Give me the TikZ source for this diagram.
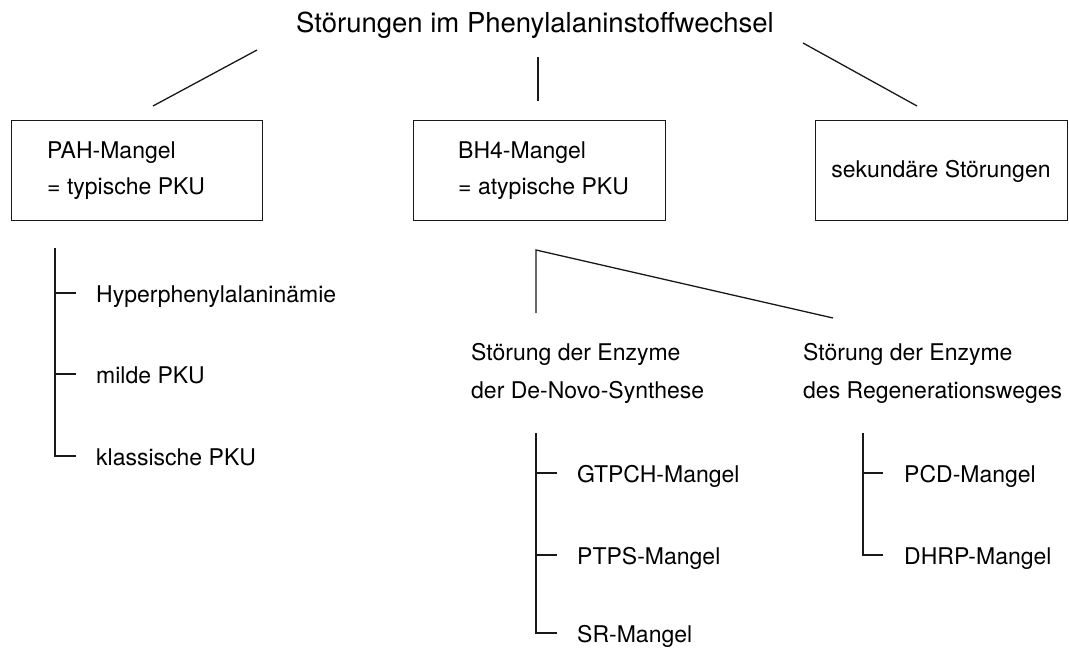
\documentclass[tikz,border=0pt]{standalone}
\usepackage{fontspec}
\setmainfont{TeX Gyre Heros}
\begin{document}
\begin{tikzpicture}[x=1pt,y=-1pt,
  ln/.style={line width=1.3pt, black!90},
  txt/.style={font=\fontsize{23}{27}\selectfont, inner sep=0pt, anchor=base west},
  ttl/.style={font=\fontsize{27.5}{32}\selectfont, inner sep=0pt, anchor=base},
  box/.style={draw, line width=1.3pt, black!90, anchor=north west, inner sep=0pt, minimum height=100pt}]
\useasboundingbox (0,0) rectangle (1069,651);

% title
\node[ttl] (title) at (535,32) {Störungen im Phenylalaninstoffwechsel};

% boxes
\node[box, minimum width=251pt] (pah) at (11,120) {};
\node[box, minimum width=252pt] (bh4) at (413,120) {};
\node[box, minimum width=252pt] (sek) at (815,120) {};

\node[txt] (pah1) at (47,158) {PAH-Mangel};
\node[txt] (pah2) at (47,194) {= typische PKU};
\node[txt] (bh41) at (458,158) {BH4-Mangel};
\node[txt] (bh42) at (458,194) {= atypische PKU};
\node[txt, anchor=base] (sek1) at (941,177) {sekundäre Störungen};

% connectors from title
\coordinate (lA) at (257,50);  \coordinate (lB) at (153,106);
\coordinate (mA) at (538,57);  \coordinate (mB) at (538,101);
\coordinate (rA) at (803,43);  \coordinate (rB) at (917,106);
\draw[ln] (lA) -- (lB);
\draw[ln] (mA) -- (mB);
\draw[ln] (rA) -- (rB);

% PAH subtree
\coordinate (p0) at (55,248);
\coordinate (p1) at (55,293); \coordinate (p1e) at (76,293);
\coordinate (p2) at (55,374); \coordinate (p2e) at (76,374);
\coordinate (p3) at (55,456); \coordinate (p3e) at (76,456);
\draw[ln] (p0) -- (p3) -- (p3e);
\draw[ln] (p1) -- (p1e);
\draw[ln] (p2) -- (p2e);
\node[txt] (hyp) at (96,302) {Hyperphenylalaninämie};
\node[txt] (mild) at (96,383) {milde PKU};
\node[txt] (klas) at (96,465) {klassische PKU};

% BH4 branching
\coordinate (bV) at (536,250);
\coordinate (bL) at (536,313);
\coordinate (bR) at (833,318);
\draw[ln] (bL) -- (bV) -- (bR);

\node[txt] (dn1) at (471,360) {Störung der Enzyme};
\node[txt] (dn2) at (471,398) {der De-Novo-Synthese};
\node[txt] (rg1) at (803,360) {Störung der Enzyme};
\node[txt] (rg2) at (803,398) {des Regenerationsweges};

% De-novo subtree
\coordinate (d0) at (536,433);
\coordinate (d1) at (536,473); \coordinate (d1e) at (557,473);
\coordinate (d2) at (536,555); \coordinate (d2e) at (557,555);
\coordinate (d3) at (536,633); \coordinate (d3e) at (557,633);
\draw[ln] (d0) -- (d3) -- (d3e);
\draw[ln] (d1) -- (d1e);
\draw[ln] (d2) -- (d2e);
\node[txt] (gtp) at (577,482) {GTPCH-Mangel};
\node[txt] (ptp) at (577,564) {PTPS-Mangel};
\node[txt] (sr) at (577,642) {SR-Mangel};

% Regeneration subtree
\coordinate (g0) at (863,433);
\coordinate (g1) at (863,473); \coordinate (g1e) at (883,473);
\coordinate (g2) at (863,555); \coordinate (g2e) at (883,555);
\draw[ln] (g0) -- (g2) -- (g2e);
\draw[ln] (g1) -- (g1e);
\node[txt] (pcd) at (904,482) {PCD-Mangel};
\node[txt] (dhr) at (904,564) {DHRP-Mangel};
\end{tikzpicture}
\end{document}
